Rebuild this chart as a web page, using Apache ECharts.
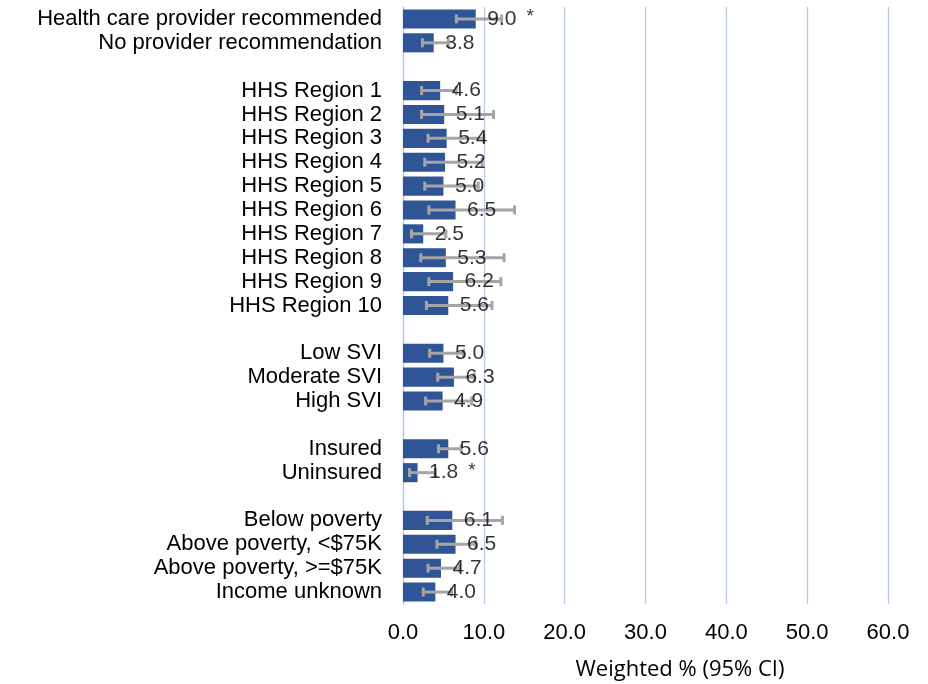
<!DOCTYPE html>
<html>
<head>
<meta charset="utf-8">
<script src="https://cdn.jsdelivr.net/npm/echarts@6/dist/echarts.min.js"></script>
<style>
html,body{margin:0;padding:0;background:#fff;}
#chart{width:928px;height:684px;}
</style>
</head>
<body>
<div id="chart"></div>
<script>
const categories = [
  'Health care provider recommended', 'No provider recommendation', ' ',
  'HHS Region 1', 'HHS Region 2', 'HHS Region 3', 'HHS Region 4', 'HHS Region 5',
  'HHS Region 6', 'HHS Region 7', 'HHS Region 8', 'HHS Region 9', 'HHS Region 10', '  ',
  'Low SVI', 'Moderate SVI', 'High SVI', '   ',
  'Insured', 'Uninsured', '    ',
  'Below poverty', 'Above poverty, <$75K', 'Above poverty, >=$75K', 'Income unknown'
];
const values = [9.0, 3.8, null,
  4.6, 5.1, 5.4, 5.2, 5.0, 6.5, 2.5, 5.3, 6.2, 5.6, null,
  5.0, 6.3, 4.9, null,
  5.6, 1.8, null,
  6.1, 6.5, 4.7, 4.0];
const lower = [6.6, 2.4, null,
  2.3, 2.3, 3.1, 2.7, 2.7, 3.2, 1.05, 2.2, 3.2, 2.9, null,
  3.3, 4.3, 2.8, null,
  4.4, 0.8, null,
  3.0, 4.2, 3.1, 2.5];
const upper = [12.2, 5.6, null,
  6.6, 11.2, 10.0, 9.8, 9.3, 13.8, 5.3, 12.5, 12.1, 11.0, null,
  7.5, 8.8, 8.5, null,
  7.2, 4.0, null,
  12.3, 9.0, 7.0, 6.0];
const notes = ['*', '', '', '', '', '', '', '', '', '', '', '', '', '', '', '', '', '', '', '*', '', '', '', '', ''];
const xTicks = {min: 0, max: 60, interval: 10};
const axisTitle = 'Weighted % (95% CI)';

const errData = [];
const labelData = [];
categories.forEach((c, i) => {
  if (values[i] != null) {
    errData.push([i, lower[i], upper[i]]);
    labelData.push([values[i], i]);
  }
});

const FONT = "'Liberation Sans', Arial, sans-serif";
const chart = echarts.init(document.getElementById('chart'));
const GRID = '#B9C8E6';
chart.setOption({
  animation: false,
  backgroundColor: '#ffffff',
  title: {
    text: axisTitle,
    left: 675, top: 654,
    textAlign: 'center',
    textStyle: {fontFamily: "'Open Sans', sans-serif", fontSize: 22, fontWeight: 'normal', color: '#000'}
  },
  grid: {left: 403, right: 40, top: 7, bottom: 80},
  xAxis: {
    type: 'value',
    min: xTicks.min, max: xTicks.max, interval: xTicks.interval,
    axisLine: {show: false},
    axisTick: {show: false},
    splitLine: {show: true, lineStyle: {color: GRID, width: 1.3}},
    axisLabel: {
      margin: 18,
      fontFamily: FONT, fontSize: 22, color: '#000',
      formatter: v => v.toFixed(1)
    }
  },
  yAxis: {
    type: 'category',
    inverse: true,
    data: categories,
    axisLine: {show: true, lineStyle: {color: GRID, width: 1.3}},
    axisTick: {show: false},
    splitLine: {show: false},
    axisLabel: {
      margin: 21, interval: 0,
      fontFamily: FONT, fontSize: 22, color: '#000'
    }
  },
  series: [
    {
      type: 'bar',
      data: values,
      barCategoryGap: '20%',
      itemStyle: {color: '#2F5597'},
      z: 2
    },
    {
      type: 'custom',
      data: errData,
      encode: {x: [1, 2], y: 0},
      z: 3,
      renderItem: function (params, api) {
        const i = api.value(0);
        const p1 = api.coord([api.value(1), i]);
        const p2 = api.coord([api.value(2), i]);
        const h = 4.5;
        const st = {stroke: '#A5A5A5', lineWidth: 3, fill: null};
        return {
          type: 'group',
          children: [
            {type: 'line', shape: {x1: p1[0], y1: p1[1], x2: p2[0], y2: p2[1]}, style: st},
            {type: 'line', shape: {x1: p1[0], y1: p1[1] - h, x2: p1[0], y2: p1[1] + h}, style: st},
            {type: 'line', shape: {x1: p2[0], y1: p2[1] - h, x2: p2[0], y2: p2[1] + h}, style: st}
          ]
        };
      }
    },
    {
      type: 'scatter',
      data: labelData,
      symbol: 'circle',
      symbolSize: 1,
      itemStyle: {color: 'rgba(0,0,0,0)'},
      z: 4,
      silent: true,
      label: {
        show: true,
        position: 'right',
        distance: 11,
        fontFamily: FONT, fontSize: 21, color: '#000',
        formatter: function (p) {
          const i = p.value[1];
          const n = notes[i];
          return p.value[0].toFixed(1) + (n ? '{s|' + n + '}' : '');
        },
        rich: {
          s: {fontFamily: FONT, fontSize: 19, color: '#000', padding: [0, 0, 4, 10], verticalAlign: 'top'}
        }
      }
    }
  ]
});
</script>
</body>
</html>
